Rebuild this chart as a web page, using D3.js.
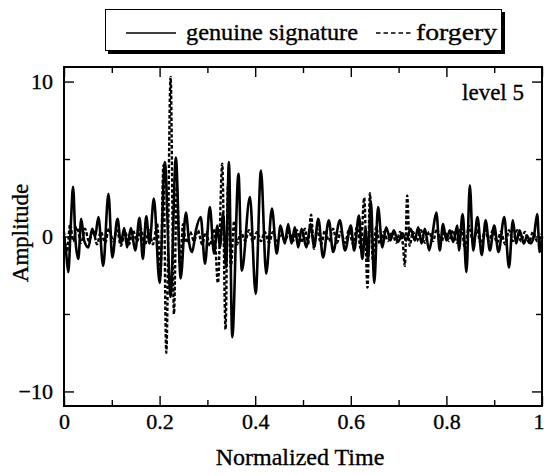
<!DOCTYPE html>
<html>
<head>
<meta charset="utf-8">
<script src="https://cdn.jsdelivr.net/npm/d3@7"></script>
<style>
  body { margin: 0; background: #fff; }
  text { font-family: "Liberation Serif", "Times New Roman", serif; fill: #000; stroke: #000; stroke-width: 0.35px; }
</style>
</head>
<body>
<div class="chart"></div>
<script>
// wavelet detail signal, level 5
var genuineTime = [0.000, 0.004, 0.009, 0.014, 0.019, 0.024, 0.030, 0.036, 0.042, 0.051,
  0.059, 0.065, 0.072, 0.082, 0.093, 0.101, 0.112, 0.119, 0.126, 0.132,
  0.140, 0.149, 0.158, 0.165, 0.172, 0.179, 0.188, 0.200, 0.211, 0.223,
  0.234, 0.244, 0.255, 0.262, 0.268, 0.276, 0.286, 0.295, 0.305, 0.314,
  0.321, 0.326, 0.333, 0.339, 0.345, 0.352, 0.365, 0.372, 0.389, 0.401,
  0.412, 0.423, 0.435, 0.445, 0.453, 0.462, 0.469, 0.476, 0.483, 0.490,
  0.497, 0.507, 0.516, 0.523, 0.532, 0.542, 0.554, 0.563, 0.577, 0.588,
  0.600, 0.607, 0.617, 0.624, 0.631, 0.636, 0.642, 0.649, 0.657, 0.666,
  0.674, 0.683, 0.690, 0.699, 0.708, 0.716, 0.725, 0.734, 0.741, 0.748,
  0.755, 0.764, 0.771, 0.779, 0.786, 0.793, 0.800, 0.807, 0.814, 0.823,
  0.826, 0.834, 0.842, 0.849, 0.856, 0.865, 0.874, 0.882, 0.891, 0.900,
  0.909, 0.921, 0.931, 0.939, 0.946, 0.953, 0.962, 0.969, 0.976, 0.983,
  0.990, 0.995, 1.000];
var genuineAmp = [0, -0.9, -2.3, 0.6, 3.2, -0.25, -1.45, 1.15, -0.25, -0.7,
  0.5, 0, 1.25, -1.9, 2.75, -1.35, 1.15, -0.45, 0.55, -0.7,
  0.55, -0.9, 1.2, -1.45, 1.3, -0.45, 2.45, -3.0, 4.8, -3.9,
  5.1, -2.7, 1.55, -0.45, -1.0, 0.4, 1.25, -1.75, 1.9, -1.1,
  0.7, -0.7, 1.5, -2.0, 4.8, -6.5, 4.05, -2.2, 2.55, -3.7,
  4.25, -2.4, 1.8, -1.1, 0.7, -0.45, 0.8, -0.45, 0.6, -0.7,
  0.5, -0.7, 0.8, -0.7, 1.15, -1.35, 1.05, -1.0, 1.05, -0.9,
  0.7, -0.9, 1.35, -1.45, 0.5, -1.5, 2.3, -3.0, 1.9, -0.7,
  0.6, -0.25, 0.4, -0.35, 0.2, -0.25, 0.5, -0.25, 0.6, -0.45,
  0.5, -0.9, 0.2, 1.55, -0.9, 0.8, -0.25, 0.4, -0.35, 0.7,
  -0.9, 1.45, -2.3, 3.3, -0.9, 1.25, -1.2, 1.05, -0.9, 0.7,
  -1.0, 1.25, -2.0, 1.05, -0.45, 0.4, -0.45, 0.05, -0.45, 0,
  1.45, -1.0, 0];

var forgeryTime = [0.000, 0.006, 0.013, 0.019, 0.027, 0.036, 0.044, 0.052, 0.061, 0.069,
  0.077, 0.086, 0.094, 0.103, 0.111, 0.119, 0.128, 0.136, 0.144, 0.153,
  0.161, 0.169, 0.178, 0.186, 0.195, 0.202, 0.208, 0.214, 0.223, 0.230,
  0.236, 0.243, 0.249, 0.255, 0.264, 0.272, 0.280, 0.289, 0.297, 0.305,
  0.314, 0.322, 0.331, 0.338, 0.343, 0.349, 0.356, 0.362, 0.370, 0.379,
  0.387, 0.395, 0.404, 0.412, 0.420, 0.429, 0.437, 0.446, 0.454, 0.462,
  0.471, 0.479, 0.487, 0.496, 0.504, 0.510, 0.517, 0.523, 0.529, 0.538,
  0.546, 0.554, 0.563, 0.571, 0.579, 0.588, 0.596, 0.605, 0.613, 0.621,
  0.628, 0.635, 0.640, 0.646, 0.653, 0.661, 0.669, 0.678, 0.686, 0.695,
  0.703, 0.709, 0.713, 0.718, 0.723, 0.730, 0.738, 0.747, 0.755, 0.764,
  0.772, 0.780, 0.789, 0.797, 0.805, 0.814, 0.822, 0.831, 0.839, 0.847,
  0.856, 0.864, 0.872, 0.881, 0.889, 0.897, 0.906, 0.914, 0.923, 0.931,
  0.939, 0.948, 0.956, 0.964, 0.973, 0.981, 0.990, 1.000];
var forgeryAmp = [0.3, -1.0, 0.8, -0.3, 0.6, -0.4, 0.5, -0.3, 0.4, -0.5,
  0.3, -0.4, 0.5, -0.3, 0.4, -0.6, 0.3, -0.5, 0.4, -0.3,
  0.5, -0.6, 0.4, -0.5, 0.8, -2.5, 4.6, -7.5, 10.3, -5.0,
  3.2, -2.0, 0.8, -0.4, 0.3, -0.3, 0.4, -0.5, 0.3, -0.6,
  0.5, -3.0, 4.7, -6.0, 3.4, -2.0, 1.0, -0.5, 0.3, -0.3,
  0.4, -0.3, 0.3, -0.3, 0.3, -0.4, 0.3, -0.3, 0.2, -0.3,
  0.3, -0.3, 0.4, -0.4, 0.5, -0.6, 1.4, -0.8, 0.5, -0.5,
  0.4, -0.3, 0.5, -0.4, 0.3, -0.4, 0.4, -0.5, 0.6, -0.8,
  2.5, -3.3, 2.8, -1.5, 0.6, -0.5, 0.3, -0.3, 0.3, -0.4,
  0.3, -0.5, -1.9, 2.65, -0.6, 0.3, -0.3, 0.4, -0.4, 0.3,
  -0.3, 0.5, -0.4, 0.3, -0.3, 0.4, -0.4, 0.6, -0.8, 0.7,
  -0.4, 0.4, -0.5, 0.4, -0.3, 0.4, -0.4, 0.3, -0.5, 0.4,
  -0.3, 0.4, -0.3, 0.3, -0.4, 0.3, -0.3, 0.2];

var xMajorTicks = [0, 0.2, 0.4, 0.6, 0.8, 1];
var xMinorTicks = [0.1, 0.3, 0.5, 0.7, 0.9];
var yMajorTicks = [-10, 0, 10];
var yMinorTicks = [-5, 5];
var seriesNames = ["genuine signature", "forgery"];

var svgWidth = 544;
var svgHeight = 475;
var margin = { top: 67, right: 2, bottom: 69, left: 64 };
var width = svgWidth - margin.left - margin.right;
var height = svgHeight - margin.top - margin.bottom;

var svg = d3.select(".chart")
  .append("svg")
  .attr("width", svgWidth)
  .attr("height", svgHeight);

var chartGroup = svg.append("g")
  .attr("transform", `translate(${margin.left}, ${margin.top})`);

var xScale = d3.scaleLinear().domain([0, 1]).range([0, width]);
var yScale = d3.scaleLinear().domain([-10.94, 10.94]).range([height, 0]);

// axes: ticks point inward on all four sides
function fmtX(d) { return d === 0 || d === 1 ? d3.format("d")(d) : d3.format(".1f")(d); }

chartGroup.append("g")
  .attr("class", "x-axis")
  .attr("transform", `translate(0, ${height})`)
  .call(d3.axisBottom(xScale).tickValues(xMajorTicks).tickSizeInner(-10).tickSizeOuter(0)
    .tickPadding(7).tickFormat(fmtX));
chartGroup.append("g")
  .attr("transform", `translate(0, ${height})`)
  .call(d3.axisBottom(xScale).tickValues(xMinorTicks).tickSizeInner(-6).tickSizeOuter(0).tickFormat(""));
chartGroup.append("g")
  .call(d3.axisTop(xScale).tickValues(xMajorTicks).tickSizeInner(-10).tickSizeOuter(0).tickFormat(""));
chartGroup.append("g")
  .call(d3.axisTop(xScale).tickValues(xMinorTicks).tickSizeInner(-6).tickSizeOuter(0).tickFormat(""));

chartGroup.append("g")
  .call(d3.axisLeft(yScale).tickValues(yMajorTicks).tickSizeInner(-10).tickSizeOuter(0)
    .tickPadding(11).tickFormat(d3.format("d")));
chartGroup.append("g")
  .call(d3.axisLeft(yScale).tickValues(yMinorTicks).tickSizeInner(-6).tickSizeOuter(0).tickFormat(""));
chartGroup.append("g")
  .attr("transform", `translate(${width}, 0)`)
  .call(d3.axisRight(yScale).tickValues(yMajorTicks).tickSizeInner(-10).tickSizeOuter(0).tickFormat(""));
chartGroup.append("g")
  .attr("transform", `translate(${width}, 0)`)
  .call(d3.axisRight(yScale).tickValues(yMinorTicks).tickSizeInner(-6).tickSizeOuter(0).tickFormat(""));

chartGroup.selectAll(".domain").remove();
chartGroup.selectAll(".tick line").attr("stroke", "#000").attr("stroke-width", 1.4);
chartGroup.selectAll(".tick text")
  .style("font-family", '"Liberation Serif", serif')
  .style("font-size", "22px")
  .attr("fill", "#000");

// the "1" sits on the page edge, keep it inside
chartGroup.select(".x-axis").selectAll(".tick text")
  .filter(d => d === 1)
  .attr("text-anchor", "end")
  .attr("x", 2);

// the curves
var line = d3.line()
  .x(d => xScale(d[0]))
  .y(d => yScale(d[1]))
  .curve(d3.curveMonotoneX);

var genuine = d3.zip(genuineTime, genuineAmp);
var forgery = d3.zip(forgeryTime, forgeryAmp);

chartGroup.append("path")
  .datum(forgery)
  .attr("fill", "none")
  .attr("stroke", "#000")
  .attr("stroke-width", 2.4)
  .attr("stroke-dasharray", "3.5,2")
  .attr("d", line);

chartGroup.append("path")
  .datum(genuine)
  .attr("fill", "none")
  .attr("stroke", "#000")
  .attr("stroke-width", 2.6)
  .attr("d", line);

// frame
chartGroup.append("rect")
  .attr("width", width)
  .attr("height", height)
  .attr("fill", "none")
  .attr("stroke", "#000")
  .attr("stroke-width", 2);

chartGroup.append("text")
  .attr("x", width - 18)
  .attr("y", 33)
  .attr("text-anchor", "end")
  .style("font-size", "23px")
  .text("level 5");

// axis titles
svg.append("text")
  .attr("x", 300)
  .attr("y", 465)
  .attr("text-anchor", "middle")
  .style("font-size", "24px")
  .text("Normalized Time");

svg.append("text")
  .attr("transform", "rotate(-90)")
  .attr("x", -233)
  .attr("y", 28)
  .attr("text-anchor", "middle")
  .style("font-size", "23px")
  .text("Amplitude");

// legend box with drop shadow
var legend = svg.append("g");
legend.append("rect")
  .attr("x", 108).attr("y", 12).attr("width", 397).attr("height", 42)
  .attr("fill", "#000");
legend.append("rect")
  .attr("x", 105.5).attr("y", 9.5).attr("width", 396).attr("height", 41)
  .attr("fill", "#fff").attr("stroke", "#000").attr("stroke-width", 1);

legend.append("line")
  .attr("x1", 126).attr("x2", 176).attr("y1", 33).attr("y2", 33)
  .attr("stroke", "#000").attr("stroke-width", 1.6);
legend.append("text")
  .attr("x", 186).attr("y", 40)
  .attr("textLength", 172).attr("lengthAdjust", "spacingAndGlyphs")
  .style("font-size", "24px")
  .text(seriesNames[0]);
legend.append("line")
  .attr("x1", 376).attr("x2", 413).attr("y1", 33).attr("y2", 33)
  .attr("stroke", "#000").attr("stroke-width", 1.6)
  .attr("stroke-dasharray", "4.5,3");
legend.append("text")
  .attr("x", 416).attr("y", 40)
  .attr("textLength", 81).attr("lengthAdjust", "spacingAndGlyphs")
  .style("font-size", "24px")
  .text(seriesNames[1]);
</script>
</body>
</html>
